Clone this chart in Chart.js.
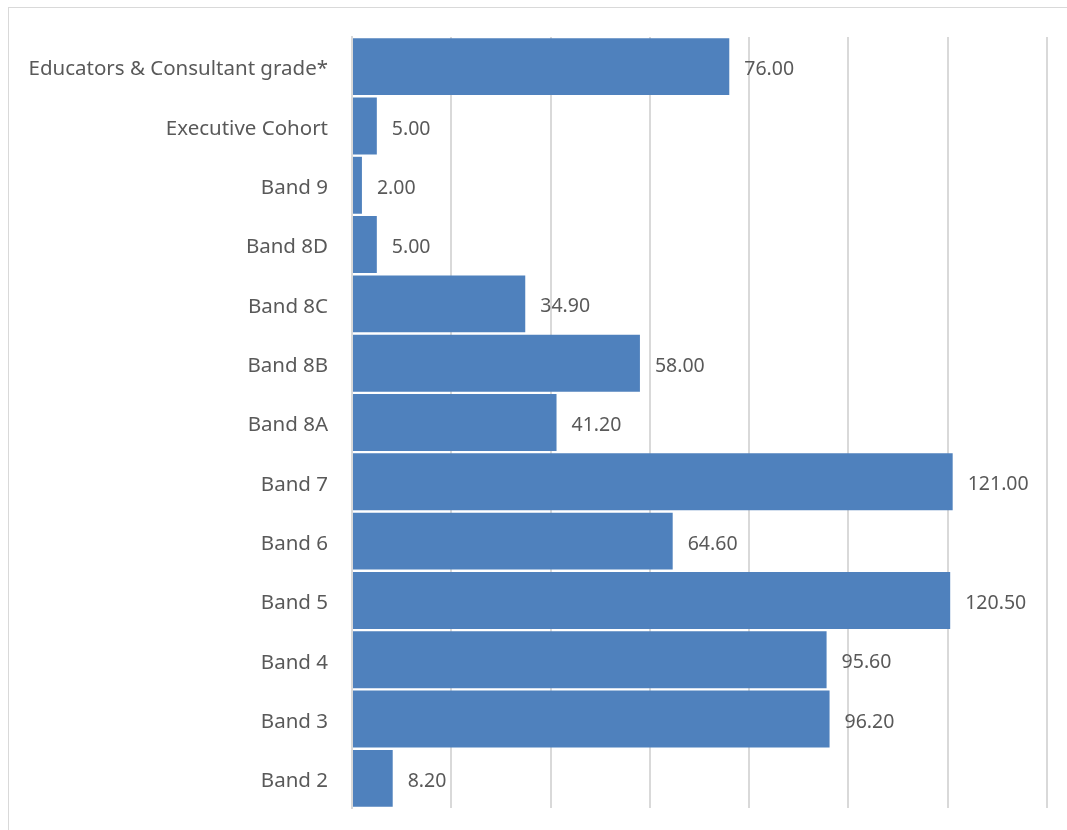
<!DOCTYPE html>
<html>
<head>
<meta charset="utf-8">
<script src="https://cdn.jsdelivr.net/npm/chart.js@4/dist/chart.umd.min.js"></script>
<style>
    html, body { margin: 0; padding: 0; background: #fff; }
    #wrap { position: relative; width: 1067px; height: 830px; }
    #frame { position: absolute; left: 8px; top: 7px; width: 1070px; height: 830px; border: 1px solid #d9d9d9; box-sizing: border-box; }
    canvas { position: absolute; left: 0; top: 0; }
</style>
</head>
<body>
<div id="wrap">
    <div id="frame"></div>
    <canvas id="grades" width="1067" height="830"></canvas>
</div>
<script>
const categories = [
    "Educators & Consultant grade*",
    "Executive Cohort",
    "Band 9",
    "Band 8D",
    "Band 8C",
    "Band 8B",
    "Band 8A",
    "Band 7",
    "Band 6",
    "Band 5",
    "Band 4",
    "Band 3",
    "Band 2",
];
const values = [76.0, 5.0, 2.0, 5.0, 34.9, 58.0, 41.2, 121.0, 64.6, 120.5, 95.6, 96.2, 8.2];

const fontFamily = "'Noto Sans', sans-serif";
const textColor = "#595959";

// draws the value next to the end of each bar
const valueLabels = {
    id: "valueLabels",
    afterDatasetsDraw(chart) {
        const ctx = chart.ctx;
        const meta = chart.getDatasetMeta(0);
        ctx.save();
        ctx.font = "19.5px " + fontFamily;
        ctx.fillStyle = textColor;
        ctx.textAlign = "left";
        ctx.textBaseline = "middle";
        meta.data.forEach((bar, i) => {
            ctx.fillText(values[i].toFixed(2), bar.x + 15, bar.y + 3);
        });
        ctx.restore();
    },
};

new Chart(document.getElementById("grades"), {
    type: "bar",
    data: {
        labels: categories,
        datasets: [
            {
                data: values,
                backgroundColor: "#4f81bd",
                borderWidth: 0,
                barPercentage: 0.96,
                categoryPercentage: 1.0,
            },
        ],
    },
    options: {
        indexAxis: "y",
        responsive: false,
        animation: false,
        layout: { padding: { top: 37, bottom: 22, right: 20, left: 0 } },
        plugins: {
            legend: { display: false },
            tooltip: { enabled: false },
        },
        scales: {
            x: {
                min: 0,
                max: 140,
                ticks: { display: false, stepSize: 20 },
                grid: { color: "#d9d9d9", lineWidth: 2, drawTicks: false },
                border: { display: false },
                afterFit(scale) { scale.height = 0; },
            },
            y: {
                ticks: {
                    color: textColor,
                    font: { family: fontFamily, size: 20.5 },
                    padding: 24,
                    labelOffset: 3,
                },
                grid: { display: false, drawTicks: false },
                border: { color: "#d9d9d9", width: 2 },
                afterFit(scale) {
                    scale.width = 352;
                    scale.paddingTop = 0;
                    scale.paddingBottom = 0;
                },
            },
        },
    },
    plugins: [valueLabels],
});
</script>
</body>
</html>
